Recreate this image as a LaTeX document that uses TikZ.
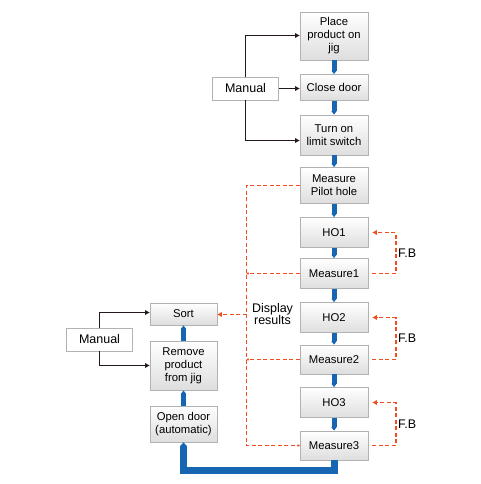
\documentclass[tikz,border=0pt]{standalone}
\usepackage{fontspec}
\setmainfont{Liberation Sans}
\usetikzlibrary{arrows.meta,calc}
\definecolor{flowblue}{RGB}{22,102,178}
\definecolor{fbred}{RGB}{238,78,32}
\definecolor{boxline}{RGB}{178,178,178}
\definecolor{linkblack}{RGB}{35,25,25}
\begin{document}
\begin{tikzpicture}[x=1pt,y=-1pt,
  box/.style={draw=boxline, line width=0.8pt, top color=white, bottom color=black!13,
    align=center, font=\fontsize{11.3}{13}\selectfont, inner sep=0pt},
  rbox/.style={box, minimum width=68pt},
  lbox/.style={box, minimum width=67pt},
  manbox/.style={draw=boxline, line width=0.8pt, fill=white, minimum width=66.5pt,
    minimum height=23pt, font=\fontsize{12.5}{14}\selectfont, inner sep=0pt},
  flow/.style={draw=flowblue, line width=5pt, -{Triangle[length=3.5pt,width=5pt]}},
  bigflow/.style={draw=flowblue, line width=7pt, -{Triangle[length=4pt,width=7pt]}},
  link/.style={draw=linkblack, line width=1.4pt, -{Triangle[length=4.5pt,width=4.5pt]}},
  fb/.style={draw=fbred, line width=1.8pt, dash pattern=on 4pt off 2.5pt},
  fbarrow/.style={fb, -{Triangle[length=4.5pt,width=4.5pt]}},
  fbline/.style={fb, -{Butt Cap[]}},
  lbl/.style={font=\fontsize{12.5}{12.5}\selectfont, inner sep=0pt}]
\useasboundingbox (0,0) rectangle (480,484);
% right column
\node[rbox, minimum height=48pt] (place) at (334,36) {Place\\product on\\jig};
\node[rbox, minimum height=26pt] (close) at (334,87.5) {Close door};
\node[rbox, minimum height=40pt] (turn) at (334,135) {Turn on\\limit switch};
\node[rbox, minimum height=36pt] (mph) at (334,185.5) {Measure\\Pilot hole};
\node[rbox, minimum height=30pt] (ho1) at (334,232.5) {HO1};
\node[rbox, minimum height=30pt] (m1) at (334,273.5) {Measure1};
\node[rbox, minimum height=30pt] (ho2) at (334,317.5) {HO2};
\node[rbox, minimum height=29pt] (m2) at (334,359.5) {Measure2};
\node[rbox, minimum height=30pt] (ho3) at (334,402.5) {HO3};
\node[rbox, minimum height=29pt] (m3) at (334,445.5) {Measure3};
% left column
\node[lbox, minimum height=22pt] (sort) at (183.5,314) {Sort};
\node[lbox, minimum height=49pt] (remove) at (183.5,365.5) {Remove\\product\\from jig};
\node[lbox, minimum height=36pt] (open) at (183.5,424) {Open door\\(automatic)};
% manual boxes
\node[manbox] (man1) at (245.5,88.5) {Manual};
\node[manbox] (man2) at (99.5,339.5) {Manual};
% labels
\node[lbl, align=center, font=\fontsize{12.5}{12.5}\selectfont] (disp) at (272.5,314) {Display\\results};
\node[lbl, anchor=west] (fb1) at (398,253) {F.B};
\node[lbl, anchor=west] (fb2) at (398,338) {F.B};
\node[lbl, anchor=west] (fb3) at (398,424.5) {F.B};
% blue flow
\draw[flow] (place.south) -- (close.north);
\draw[flow] (close.south) -- (turn.north);
\draw[flow] (turn.south) -- (mph.north);
\draw[flow] (mph.south) -- (ho1.north);
\draw[flow] (ho1.south) -- (m1.north);
\draw[flow] (m1.south) -- (ho2.north);
\draw[flow] (ho2.south) -- (m2.north);
\draw[flow] (m2.south) -- (ho3.north);
\draw[flow] (ho3.south) -- (m3.north);
\draw[bigflow] (m3.south) -- ++(0,10) -| (open.south);
\draw[flow] (open.north) -- (remove.south);
\draw[flow] (remove.north) -- (sort.south);
% manual links
\draw[link] (man1.north) |- ([yshift=0.5pt]place.west);
\draw[link] (man1.east) -- (man1.east -| close.west);
\draw[link] (man1.south) |- ([yshift=-5.5pt]turn.west);
\draw[link] (man2.north) |- ([yshift=1.5pt]sort.west);
\draw[link] (man2.south) |- (remove.west);
% display results dashed
\coordinate (dsplit) at (246.5,314.5);
\draw[fbline] (mph.west) -- (mph.west -| dsplit) |- (m3.west);
\draw[fbline] (m1.west) -- (m1.west -| dsplit);
\draw[fbline] (m2.west) -- (m2.west -| dsplit);
\draw[fbarrow] (dsplit) -- (dsplit -| sort.east);
% feedback loops
\draw[fbarrow] ([xshift=4pt]m1.east) -- ++(23.5,0) |- ([xshift=4pt]ho1.east);
\draw[fbarrow] ([xshift=4pt]m2.east) -- ++(23.5,0) |- ([xshift=4pt]ho2.east);
\draw[fbarrow] ([xshift=4pt]m3.east) -- ++(23.5,0) |- ([xshift=4pt]ho3.east);
\end{tikzpicture}
\end{document}
